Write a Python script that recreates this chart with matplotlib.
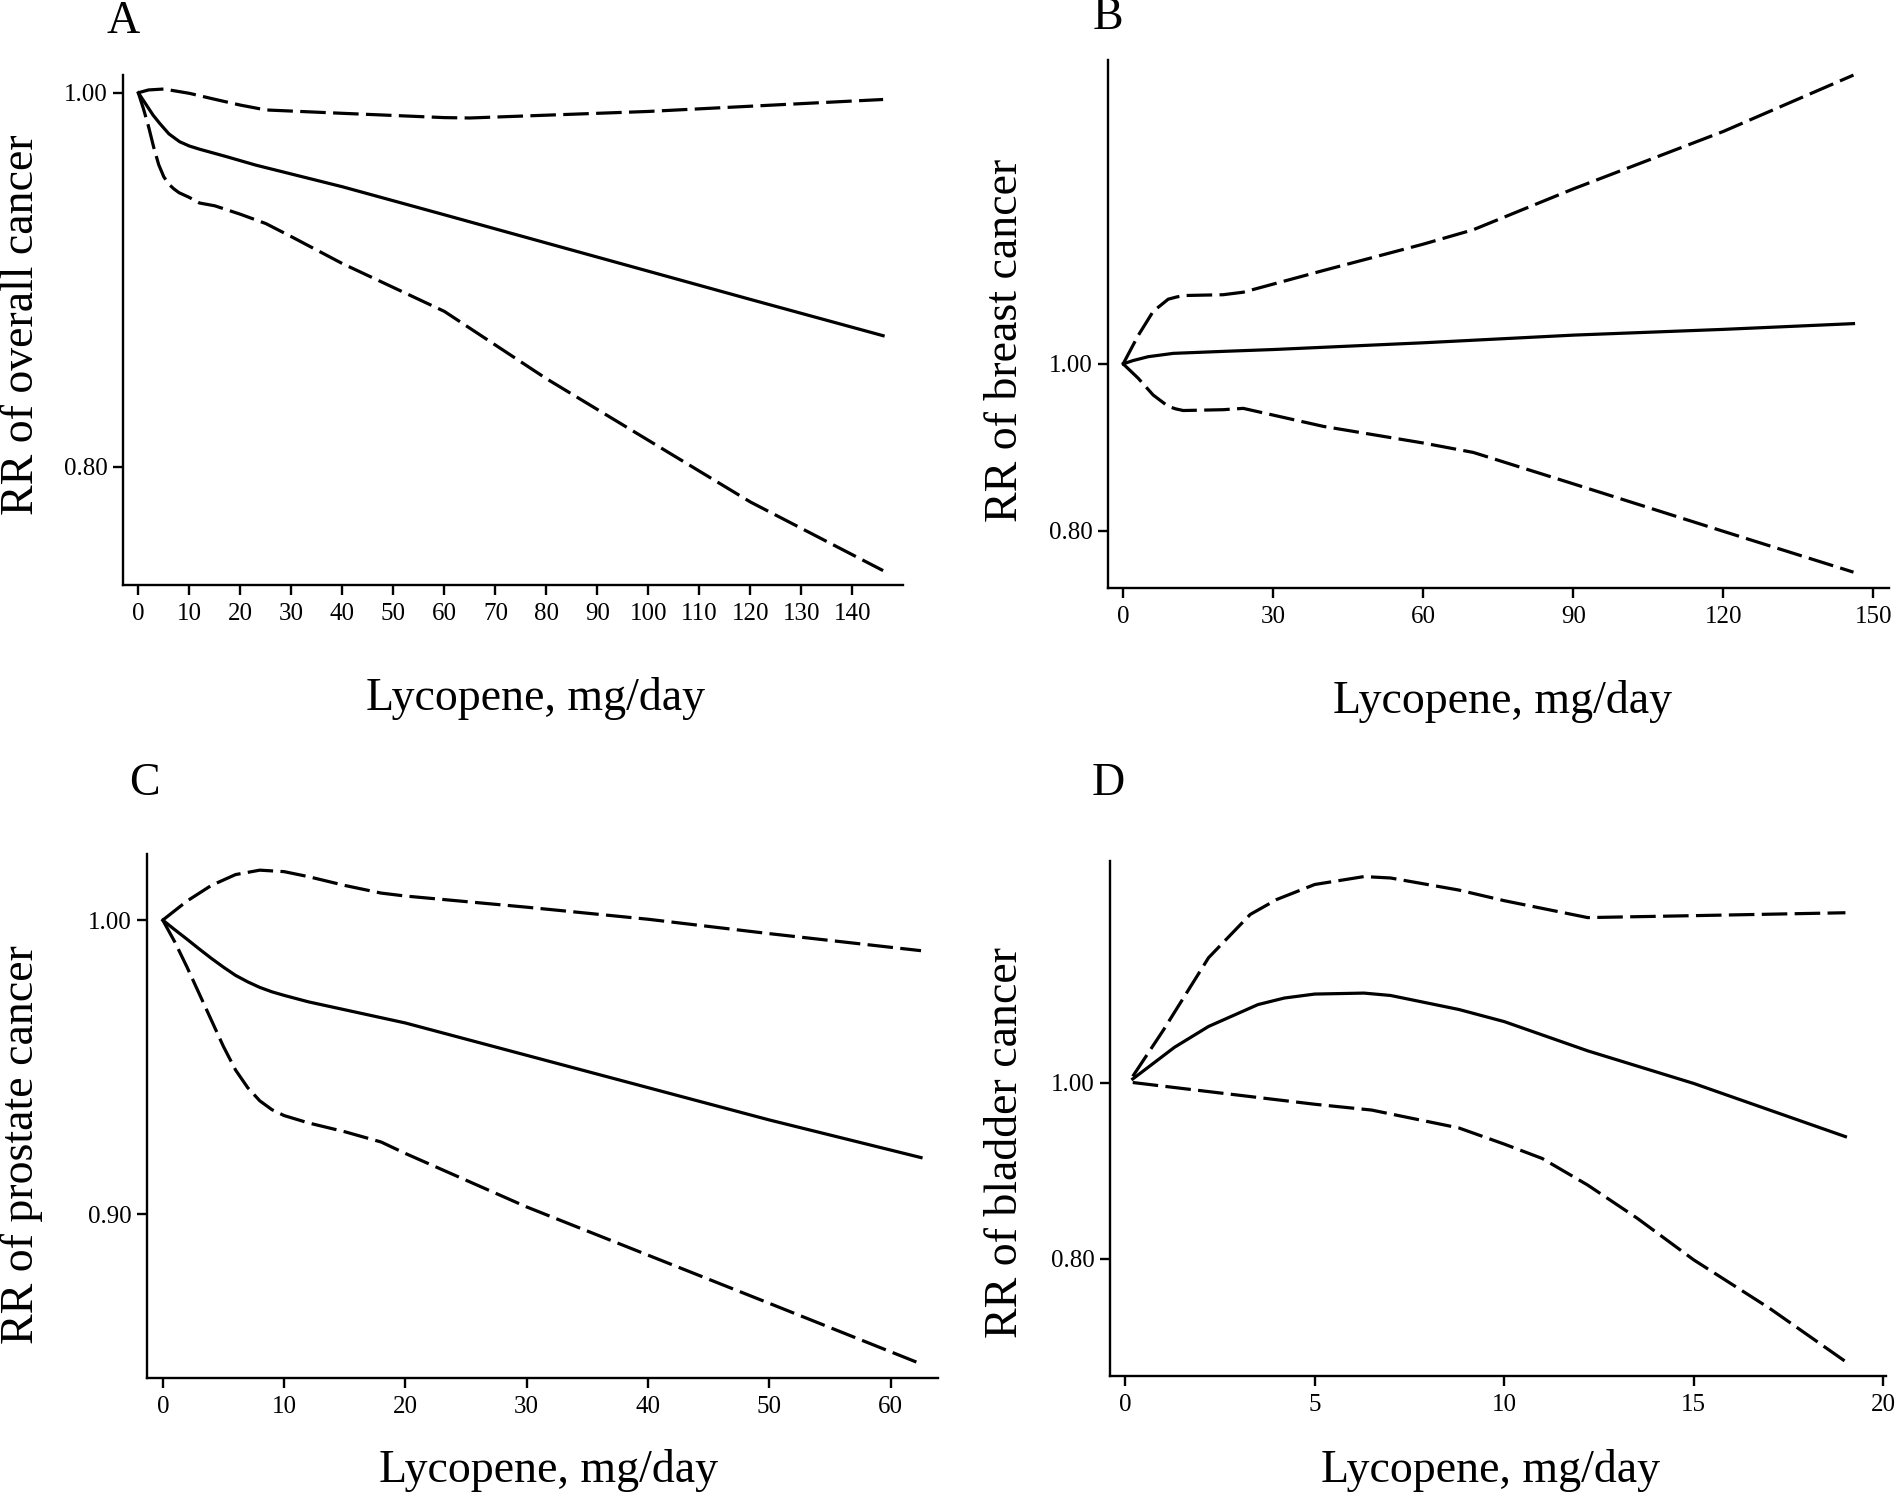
import matplotlib
matplotlib.use("Agg")
import matplotlib.pyplot as plt

plt.rcParams["font.family"] = ["Liberation Serif", "DejaVu Serif"]

# ---- data (RR vs lycopene intake) ----
a_x = [0, 1.6, 2.9, 4.2, 6, 8.1, 10, 12, 17.3, 23, 40, 60, 80, 100, 120, 146]
a_rr = [1.0, 0.9934, 0.988, 0.9836, 0.978, 0.9738, 0.9715, 0.9698, 0.9658, 0.9613,
        0.9497, 0.9347, 0.9196, 0.9045, 0.8894, 0.870]
a_up_x = [0, 2, 5, 10, 15, 20, 25, 40, 60, 65, 80, 100, 120, 146]
a_up = [1.0, 1.0015, 1.002, 0.9997, 0.9965, 0.9934, 0.9908, 0.989, 0.9867, 0.9865,
        0.988, 0.990, 0.9928, 0.9964]
a_lo_x = [0, 1, 2, 3, 4, 5, 6, 7, 8, 10, 12, 15, 20, 25, 30, 40, 60, 80, 100, 120, 146]
a_lo = [1.0, 0.9915, 0.982, 0.971, 0.9615, 0.955, 0.951, 0.9485, 0.9465, 0.944, 0.941,
        0.9395, 0.935, 0.930, 0.923, 0.9086, 0.883, 0.847, 0.814, 0.781, 0.7443]

b_x = [0, 2, 5, 10, 20, 30, 60, 90, 120, 146]
b_rr = [1.0, 1.004, 1.0086, 1.0126, 1.015, 1.0172, 1.0253, 1.0345, 1.0414, 1.0483]
b_ci_x = [0, 3, 6, 9, 10.5, 12, 20, 24, 40, 60, 70, 90, 120, 146]
b_up = [1.0, 1.034, 1.063, 1.0776, 1.080, 1.082, 1.083, 1.086, 1.112, 1.1437, 1.161,
        1.21, 1.279, 1.3466]
b_lo = [1.0, 0.9828, 0.9626, 0.949, 0.946, 0.944, 0.945, 0.9466, 0.925, 0.905, 0.8937,
        0.856, 0.799, 0.75]

c_x = [0, 1, 2, 3, 4, 5, 6, 7, 8, 9, 10, 12, 15, 20, 30, 40, 50, 62.5]
c_rr = [1.0, 0.9967, 0.9935, 0.9902, 0.9870, 0.9840, 0.9812, 0.9790, 0.9771, 0.9756,
        0.9744, 0.9722, 0.9695, 0.965, 0.954, 0.943, 0.932, 0.9192]
c_up_x = [0, 2, 4, 6, 8, 10, 12, 15, 18, 20, 30, 40, 50, 62.5]
c_up = [1.0, 1.0065, 1.0118, 1.0155, 1.017, 1.0165, 1.0148, 1.0118, 1.0092, 1.0082,
        1.0044, 1.0003, 0.9954, 0.9896]
c_lo_x = [0, 1, 2, 3, 4, 5, 6, 7, 8, 9, 10, 12, 15, 18, 20, 30, 40, 50, 62.5]
c_lo = [1.0, 0.9925, 0.984, 0.975, 0.966, 0.957, 0.949, 0.943, 0.9385, 0.9355, 0.9335,
        0.931, 0.928, 0.9245, 0.9206, 0.9024, 0.886, 0.8696, 0.849]

d_x = [0.2, 1.3, 2.2, 3.5, 4.2, 5, 6.3, 7, 8.8, 10, 12.2, 15, 19]
d_rr = [1.004, 1.040, 1.0637, 1.0885, 1.096, 1.1005, 1.1016, 1.0989, 1.083, 1.0692,
        1.036, 0.9989, 0.9385]
d_up_x = [0.2, 1, 2.2, 3.3, 4, 5, 6.3, 7, 8.8, 10, 12.2, 15, 19]
d_up = [1.007, 1.059, 1.1418, 1.191, 1.208, 1.225, 1.234, 1.2324, 1.2187, 1.2066,
        1.1874, 1.1896, 1.1929]
d_lo_x = [0.2, 2, 5, 6.5, 8.8, 10, 11, 12.2, 13.5, 15, 17, 19]
d_lo = [1.0, 0.9907, 0.9753, 0.9687, 0.9484, 0.930, 0.9137, 0.8835, 0.846, 0.7984,
        0.7434, 0.683]

W, H = 1901, 1508
fig = plt.figure(figsize=(W / 100, H / 100), dpi=100)


def px_axes(left, top, right, bottom):
    """axes from pixel box of the reference"""
    return fig.add_axes([left / W, 1 - bottom / H, (right - left) / W, (bottom - top) / H])


def style(ax, xlim, ylim, xticks, yticks):
    ax.set_xlim(*xlim)
    ax.set_ylim(*ylim)
    for s in ("top", "right"):
        ax.spines[s].set_visible(False)
    for s in ("left", "bottom"):
        ax.spines[s].set_linewidth(1.7)
    ax.set_xticks(xticks)
    ax.set_xticklabels([str(t) for t in xticks])
    ax.set_yticks(yticks)
    ax.set_yticklabels(["%.2f" % t for t in yticks])
    ax.tick_params(length=7, width=1.7, labelsize=18)
    ax.tick_params(axis="x", pad=6)
    ax.tick_params(axis="y", pad=4)


def draw(ax, x, rr, ux, up, lx, lo):
    ax.plot(x, rr, color="black", lw=2.3)
    ax.plot(ux, up, color="black", lw=2.3, dashes=(8, 2.3))
    ax.plot(lx, lo, color="black", lw=2.3, dashes=(8, 2.3))


axA = px_axes(123, 75, 903, 585)
draw(axA, a_x, a_rr, a_up_x, a_up, a_lo_x, a_lo)
style(axA, (-3.0, 149.9), (0.7366, 1.0095), list(range(0, 150, 10)), [0.80, 1.00])

axB = px_axes(1108, 60, 1889, 588)
draw(axB, b_x, b_rr, b_ci_x, b_up, b_ci_x, b_lo)
style(axB, (-3.03, 153.1), (0.731, 1.3647), [0, 30, 60, 90, 120, 150], [0.80, 1.00])

axC = px_axes(147, 854, 938, 1378)
draw(axC, c_x, c_rr, c_up_x, c_up, c_lo_x, c_lo)
style(axC, (-1.3, 63.9), (0.8442, 1.0225), [0, 10, 20, 30, 40, 50, 60], [0.90, 1.00])

axD = px_axes(1110, 861, 1886, 1376)
draw(axD, d_x, d_rr, d_up_x, d_up, d_lo_x, d_lo)
style(axD, (-0.4, 20.07), (0.6665, 1.2517), [0, 5, 10, 15, 20], [0.80, 1.00])

# panel letters
for lab, (px, py) in zip("ABCD", [(123, 22), (1108, 18), (144, 784), (1108, 784)]):
    fig.text(px / W, 1 - py / H, lab, fontsize=33, ha="center", va="center")

# axis titles
xlab = "Lycopene, mg/day"
for px, py in [(535, 698), (1502, 702), (548, 1470), (1490, 1470)]:
    fig.text(px / W, 1 - py / H, xlab, fontsize=33, ha="center", va="center")

ylabs = ["RR of overall cancer", "RR of breast cancer",
         "RR of prostate cancer", "RR of bladder cancer"]
for lab, (px, py) in zip(ylabs, [(22, 325), (1006, 340), (22, 1145), (1006, 1143)]):
    fig.text(px / W, 1 - py / H, lab, fontsize=33, rotation=90, ha="center", va="center")

fig.savefig("out.png", dpi=100, facecolor="white")
